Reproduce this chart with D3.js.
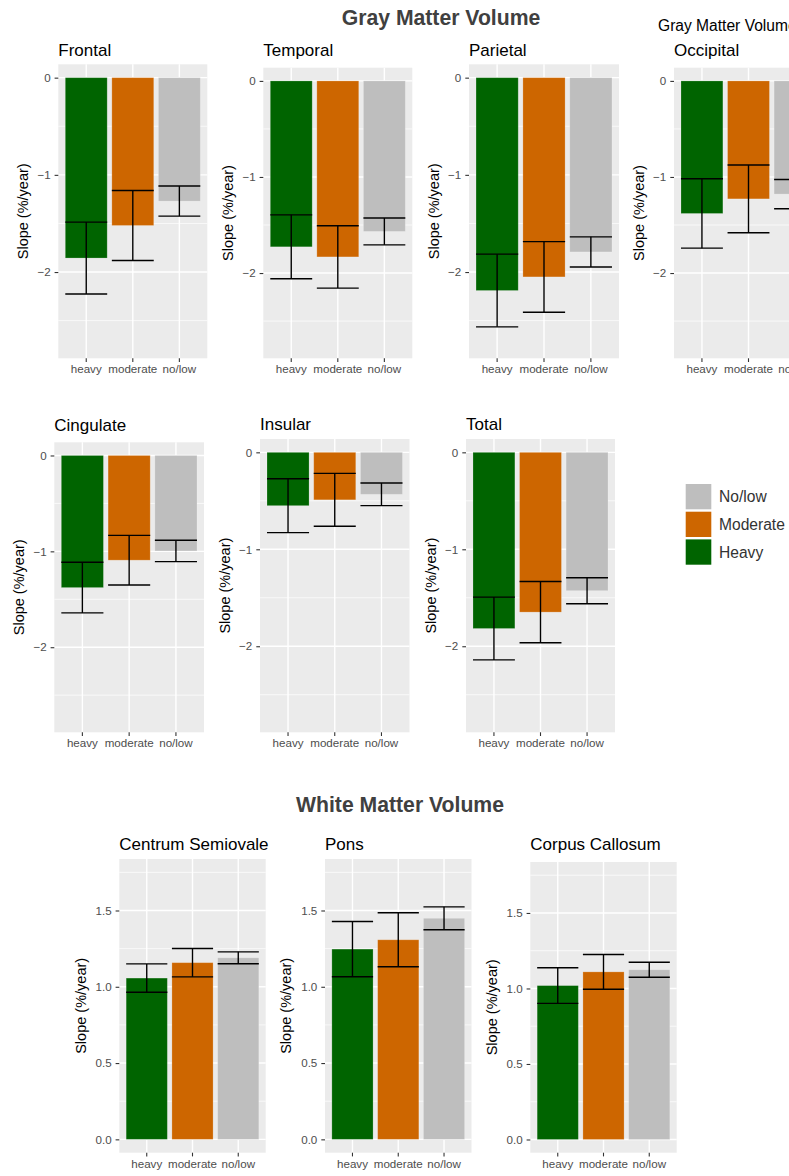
<!DOCTYPE html>
<html>
<head>
<meta charset="utf-8">
<script src="https://cdnjs.cloudflare.com/ajax/libs/d3/7.8.5/d3.min.js"></script>
<style>
  html, body { margin: 0; padding: 0; background: #fff; }
  svg { display: block; font-family: "Liberation Sans", Arial, Helvetica, sans-serif; }
</style>
</head>
<body>
<svg id="chart" width="789" height="1176"></svg>
<script>
// groups and colours (same order in every panel)
var groups = ['heavy', 'moderate', 'no/low'];
var groupColors = ['#006400', '#CD6600', '#BEBEBE'];
var legendLabels = ['No/low', 'Moderate', 'Heavy'];
var legendColors = ['#BEBEBE', '#CD6600', '#006400'];

// gray matter: mean slope and half width of the error bar, per region
var grayRegions = ['Frontal', 'Temporal', 'Parietal', 'Occipital', 'Cingulate', 'Insular', 'Total'];
var grayMeans = [
    [-1.856, -1.521, -1.270],
    [-1.727, -1.832, -1.567],
    [-2.190, -2.050, -1.793],
    [-1.380, -1.228, -1.178],
    [-1.378, -1.092, -0.996],
    [-0.550, -0.490, -0.433],
    [-1.817, -1.648, -1.427]
];
var grayErr = [
    [0.370, 0.360, 0.155],
    [0.333, 0.325, 0.140],
    [0.374, 0.363, 0.155],
    [0.361, 0.353, 0.152],
    [0.264, 0.259, 0.111],
    [0.278, 0.273, 0.117],
    [0.324, 0.316, 0.134]
];
var grayTicks = [0, -1, -2];
var grayMinor = [-0.5, -1.5, -2.5];
var grayLimits = [-2.75, 0];

// white matter
var whiteRegions = ['Centrum Semiovale', 'Pons', 'Corpus Callosum'];
var whiteMeans = [
    [1.057, 1.158, 1.190],
    [1.247, 1.308, 1.449],
    [1.019, 1.110, 1.124]
];
var whiteErr = [
    [0.093, 0.093, 0.039],
    [0.181, 0.177, 0.075],
    [0.118, 0.115, 0.050]
];
var whiteTicks = [0, 0.5, 1, 1.5];
var whiteMinor = [0.25, 0.75, 1.25, 1.75];
var whiteLimits = [0, 1.75];

// panel boxes (layout only)
var grayBoxes = [
    { x: 58.3, y: 64.3, w: 149, h: 294 },
    { x: 263.3, y: 67.7, w: 149, h: 290.6 },
    { x: 469, y: 64.3, w: 150, h: 294 },
    { x: 674, y: 67.7, w: 149, h: 290.6 },
    { x: 54.3, y: 442.3, w: 149.7, h: 290 },
    { x: 260, y: 439, w: 149.5, h: 293.3 },
    { x: 466, y: 439, w: 149, h: 293.3 }
];
var grayTitleY = [56, 56, 56, 56, 430.5, 430, 430];
var whiteBoxes = [
    { x: 119.3, y: 859, w: 146.4, h: 293.7 },
    { x: 325, y: 859, w: 146.5, h: 293.7 },
    { x: 530.3, y: 862, w: 146.4, h: 290.7 }
];
var whiteTitleY = [850, 850, 850];

var TICK_LEN = 3.7;
var svg = d3.select('#chart');

function expand(limits) {
    var pad = (limits[1] - limits[0]) * 0.05;
    return [limits[0] - pad, limits[1] + pad];
}

function drawPanel(box, title, titleY, means, errs, ticks, minor, limits, fmt, yTitleOffset) {
    var g = svg.append('g');

    var x = d3.scaleBand()
        .domain(groups)
        .range([box.x, box.x + box.w])
        .paddingInner(0.1)
        .paddingOuter(0.15);

    var y = d3.scaleLinear()
        .domain(expand(limits))
        .range([box.y + box.h, box.y]);

    g.append('rect')
        .attr('x', box.x)
        .attr('y', box.y)
        .attr('width', box.w)
        .attr('height', box.h)
        .attr('fill', '#EBEBEB');

    g.selectAll('line.minor')
        .data(minor)
        .enter().append('line')
        .attr('class', 'minor')
        .attr('x1', box.x).attr('x2', box.x + box.w)
        .attr('y1', function(d) { return y(d); })
        .attr('y2', function(d) { return y(d); })
        .attr('stroke', '#fff').attr('stroke-width', 0.7);

    g.selectAll('line.majorY')
        .data(ticks)
        .enter().append('line')
        .attr('class', 'majorY')
        .attr('x1', box.x).attr('x2', box.x + box.w)
        .attr('y1', function(d) { return y(d); })
        .attr('y2', function(d) { return y(d); })
        .attr('stroke', '#fff').attr('stroke-width', 1.4);

    g.selectAll('line.majorX')
        .data(groups)
        .enter().append('line')
        .attr('class', 'majorX')
        .attr('x1', function(d) { return x(d) + x.bandwidth() / 2; })
        .attr('x2', function(d) { return x(d) + x.bandwidth() / 2; })
        .attr('y1', box.y).attr('y2', box.y + box.h)
        .attr('stroke', '#fff').attr('stroke-width', 1.4);

    var rows = groups.map(function(grp, i) {
        return { group: grp, mean: means[i], err: errs[i], color: groupColors[i] };
    });

    g.selectAll('rect.bar')
        .data(rows)
        .enter().append('rect')
        .attr('class', 'bar')
        .attr('x', function(d) { return x(d.group); })
        .attr('width', x.bandwidth())
        .attr('y', function(d) { return Math.min(y(0), y(d.mean)); })
        .attr('height', function(d) { return Math.abs(y(d.mean) - y(0)); })
        .attr('fill', function(d) { return d.color; })
        .attr('stroke', '#ffffff')
        .attr('stroke-opacity', 0.25)
        .attr('stroke-width', 0.8);

    var bars = g.selectAll('g.err')
        .data(rows)
        .enter().append('g')
        .attr('class', 'err')
        .attr('stroke', '#000')
        .attr('stroke-width', 1.4);

    bars.append('line')
        .attr('x1', function(d) { return x(d.group) + x.bandwidth() / 2; })
        .attr('x2', function(d) { return x(d.group) + x.bandwidth() / 2; })
        .attr('y1', function(d) { return y(d.mean + d.err); })
        .attr('y2', function(d) { return y(d.mean - d.err); });
    [1, -1].forEach(function(sign) {
        bars.append('line')
            .attr('x1', function(d) { return x(d.group); })
            .attr('x2', function(d) { return x(d.group) + x.bandwidth(); })
            .attr('y1', function(d) { return y(d.mean + sign * d.err); })
            .attr('y2', function(d) { return y(d.mean + sign * d.err); });
    });

    var yAxis = g.append('g')
        .attr('transform', 'translate(' + box.x + ',0)')
        .call(d3.axisLeft(y).tickValues(ticks).tickFormat(fmt).tickSize(TICK_LEN).tickPadding(4));
    var xAxis = g.append('g')
        .attr('transform', 'translate(0,' + (box.y + box.h) + ')')
        .call(d3.axisBottom(x).tickSize(TICK_LEN).tickPadding(3));

    [yAxis, xAxis].forEach(function(ax) {
        ax.select('.domain').remove();
        ax.selectAll('line').attr('stroke', '#333').attr('stroke-width', 1.1);
        ax.selectAll('text')
            .attr('fill', '#4D4D4D')
            .style('font-size', '11.6px')
            .style('font-family', '"Liberation Sans", Arial, sans-serif');
    });

    g.append('text')
        .attr('transform', 'translate(' + (box.x - yTitleOffset) + ',' + (box.y + box.h / 2) + ') rotate(-90)')
        .attr('text-anchor', 'middle')
        .attr('dy', '0.35em')
        .style('font-size', '14.5px')
        .attr('fill', '#000')
        .text('Slope (%/year)');

    g.append('text')
        .attr('x', box.x)
        .attr('y', titleY)
        .style('font-size', '17px')
        .attr('fill', '#000')
        .text(title);
}

grayRegions.forEach(function(name, i) {
    drawPanel(grayBoxes[i], name, grayTitleY[i], grayMeans[i], grayErr[i],
        grayTicks, grayMinor, grayLimits, d3.format('d'), 35);
});
whiteRegions.forEach(function(name, i) {
    drawPanel(whiteBoxes[i], name, whiteTitleY[i], whiteMeans[i], whiteErr[i],
        whiteTicks, whiteMinor, whiteLimits, d3.format('.1f'), 38.6);
});

// section titles
svg.append('text')
    .attr('x', 441).attr('y', 25)
    .attr('text-anchor', 'middle')
    .style('font-size', '21.2px').style('font-weight', 'bold')
    .attr('fill', '#404040')
    .text('Gray Matter Volume');
svg.append('text')
    .attr('x', 658).attr('y', 30.5)
    .style('font-size', '15.6px')
    .attr('fill', '#000')
    .text('Gray Matter Volume');
svg.append('text')
    .attr('x', 400).attr('y', 812.3)
    .attr('text-anchor', 'middle')
    .style('font-size', '21.2px').style('font-weight', 'bold')
    .attr('fill', '#404040')
    .text('White Matter Volume');

// legend
var legend = svg.append('g').attr('transform', 'translate(685.7,484)');
var items = legend.selectAll('g')
    .data(legendLabels)
    .enter().append('g')
    .attr('transform', function(d, i) { return 'translate(0,' + (i * 27.7) + ')'; });
items.append('rect')
    .attr('width', 25.6)
    .attr('height', 25.3)
    .attr('fill', function(d, i) { return legendColors[i]; });
items.append('text')
    .attr('x', 33.3)
    .attr('y', 12.7)
    .attr('dy', '0.35em')
    .style('font-size', '15.6px')
    .attr('fill', '#333')
    .text(function(d) { return d; });
</script>
</body>
</html>
